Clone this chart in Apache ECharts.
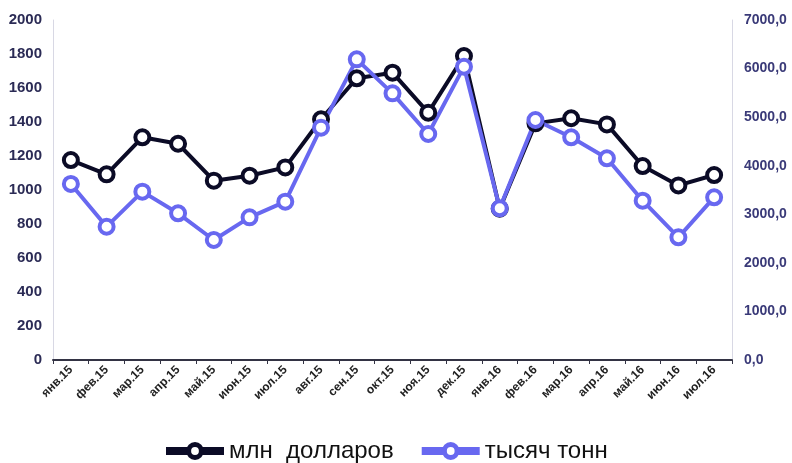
<!DOCTYPE html>
<html>
<head>
<meta charset="utf-8">
<script src="https://cdn.jsdelivr.net/npm/echarts@6/dist/echarts.min.js"></script>
<style>
  html, body { margin: 0; padding: 0; background: #fff; }
  #chart { width: 792px; height: 463px; }
</style>
</head>
<body>
<div id="chart"></div>
<script>
// Months, Jan 2015 – Jul 2016
const months = ['янв.15','фев.15','мар.15','апр.15','май.15','июн.15','июл.15','авг.15','сен.15','окт.15','ноя.15','дек.15','янв.16','фев.16','мар.16','апр.16','май.16','июн.16','июл.16'];
// Value, million dollars (left axis)
const usdMln = [1176, 1092, 1310, 1272, 1055, 1084, 1133, 1416, 1657, 1690, 1455, 1788, 890, 1392, 1422, 1386, 1141, 1027, 1088];
// Volume, thousand tonnes (right axis)
const kTonnes = [3624, 2745, 3466, 3020, 2471, 2937, 3260, 4784, 6190, 5490, 4653, 6039, 3123, 4941, 4585, 4152, 3280, 2526, 3349];
const seriesNames = ['млн  долларов', 'тысяч тонн'];

const dark = '#0b0b26';
const blue = '#6868f0';
const axisText = '#2b2b55';

const chart = echarts.init(document.getElementById('chart'));
chart.setOption({
  animation: false,
  textStyle: { fontFamily: 'Liberation Sans, Arial, sans-serif' },
  grid: { left: 53, right: 60, top: 20, bottom: 103 },
  legend: {
    top: 434,
    left: 157,
    padding: 5,
    itemWidth: 58,
    itemHeight: 16,
    itemGap: 24,
    textStyle: { fontSize: 24, color: '#111' },
    lineStyle: { width: 8 },
    itemStyle: { borderWidth: 5 },
    data: seriesNames
  },
  xAxis: {
    type: 'category',
    data: months,
    boundaryGap: true,
    axisLine: { lineStyle: { color: '#333344', width: 2 } },
    axisTick: { show: true, length: 4, lineStyle: { color: '#333344', width: 1 } },
    axisLabel: { rotate: 45, fontSize: 12, fontWeight: 'bold', color: '#222', margin: 8, interval: 0 }
  },
  yAxis: [
    {
      type: 'value', min: 0, max: 2000, interval: 200,
      axisLine: { show: true, lineStyle: { color: '#d8d8e4', width: 1 } },
      axisTick: { show: false },
      splitLine: { show: false },
      axisLabel: { fontSize: 15, fontWeight: 'bold', color: axisText, margin: 11, formatter: v => String(v) }
    },
    {
      type: 'value', min: 0, max: 7000, interval: 1000,
      axisLine: { show: true, lineStyle: { color: '#d8d8e4', width: 1 } },
      axisTick: { show: false },
      splitLine: { show: false },
      axisLabel: {
        fontSize: 14, fontWeight: 'bold', color: '#3a3a78', margin: 12,
        formatter: v => v.toFixed(1).replace('.', ',')
      }
    }
  ],
  series: [
    {
      name: seriesNames[0],
      type: 'line',
      yAxisIndex: 0,
      data: usdMln,
      symbol: 'circle',
      symbolSize: 14,
      color: dark,
      lineStyle: { color: dark, width: 4 },
      itemStyle: { color: '#fff', borderColor: dark, borderWidth: 4 }
    },
    {
      name: seriesNames[1],
      type: 'line',
      yAxisIndex: 1,
      data: kTonnes,
      symbol: 'circle',
      symbolSize: 14,
      color: blue,
      lineStyle: { color: blue, width: 4 },
      itemStyle: { color: '#fff', borderColor: blue, borderWidth: 4 }
    }
  ]
});
</script>
</body>
</html>
